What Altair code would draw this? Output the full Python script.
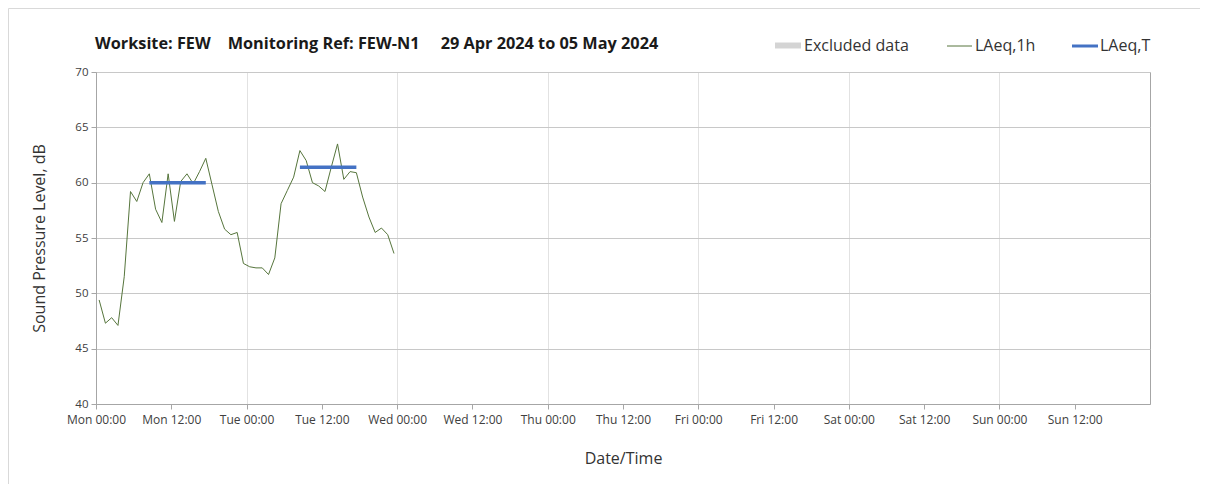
import altair as alt
import pandas as pd

# ---------------- data ----------------
TITLE = ("Worksite: FEW\u00a0\u00a0\u00a0\u00a0Monitoring Ref: FEW-N1"
         "\u00a0\u00a0\u00a0\u00a0\u00a029 Apr 2024 to 05 May 2024")
X_TITLE = "Date/Time"
Y_TITLE = "Sound Pressure Level, dB"
legend_labels = ["Excluded data", "LAeq,1h", "LAeq,T"]

# hourly LAeq,1h values from Mon 29 Apr 00:30 onward
laeq_1h = [49.4, 47.3, 47.8, 47.1, 51.5, 59.2, 58.3, 60.0, 60.8, 57.6,
           56.4, 60.8, 56.5, 60.1, 60.8, 59.9, 61.0, 62.2, 59.8, 57.4,
           55.8, 55.3, 55.5, 52.7, 52.4, 52.3, 52.3, 51.7, 53.2, 58.1,
           59.3, 60.5, 62.9, 62.0, 60.0, 59.7, 59.2, 61.4, 63.5, 60.3,
           61.0, 60.9, 58.7, 56.9, 55.5, 55.9, 55.3, 53.6]
first_time = "2024-04-29 00:30"

period_start = ["2024-04-29T08:30:00Z", "2024-04-30T08:30:00Z"]
period_end = ["2024-04-29T17:30:00Z", "2024-04-30T17:30:00Z"]
laeq_t = [60.0, 61.4]

y_ticks = [40, 45, 50, 55, 60, 65, 70]
week_start = "2024-04-29"
n_x_ticks = 14  # every 12 h, Mon 00:00 .. Sun 12:00

# ---------------- tables ----------------
times = pd.date_range(first_time, periods=len(laeq_1h), freq="h", tz="UTC")
df = pd.DataFrame({"time": times.strftime("%Y-%m-%dT%H:%M:%SZ"), "laeq": laeq_1h})
df_t = pd.DataFrame({"start": period_start, "end": period_end, "value": laeq_t})
dummy = pd.DataFrame({"a": [0]})

t0 = pd.Timestamp(week_start, tz="UTC").value // 10**6
HALF_DAY = 12 * 3600 * 1000
x_ticks = [t0 + i * HALF_DAY for i in range(n_x_ticks)]
x_domain = [t0, t0 + 14 * HALF_DAY]

FONT = "Open Sans"
GREEN = "#56753c"
BLUE = "#4472c4"
AXIS_GRAY = "#a6a6a6"
TXT = "#333333"

x_enc = alt.X(
    "time:T",
    scale=alt.Scale(type="utc", domain=x_domain, nice=False),
    axis=alt.Axis(
        values=x_ticks, labelExpr="utcFormat(datum.value, '%a %H:%M')",
        labelFont=FONT, labelFontSize=12, labelColor="#404040",
        labelPadding=5, labelFlush=False, labelOverlap=False,
        tickSize=5, tickColor=AXIS_GRAY, domainColor=AXIS_GRAY,
        grid=True, gridColor="#e2e2e2",
        gridOpacity=alt.condition("utchours(datum.value) != 0", alt.value(0), alt.value(1)),
        title=X_TITLE, titleFont=FONT, titleFontSize=16, titleFontWeight="normal",
        titleColor=TXT, titlePadding=25,
    ),
)
y_enc = alt.Y(
    "laeq:Q",
    scale=alt.Scale(domain=[40, 70], nice=False, zero=False),
    axis=alt.Axis(
        values=y_ticks, labelFont=FONT, labelFontSize=11.5, labelColor="#404040",
        labelPadding=3, tickSize=5, tickColor=AXIS_GRAY, domainColor=AXIS_GRAY,
        gridColor="#c8c8c8",
        title=Y_TITLE, titleFont=FONT, titleFontSize=16, titleFontWeight="normal",
        titleColor=TXT, titlePadding=27,
    ),
)

line = alt.Chart(df).mark_line(color=GREEN, strokeWidth=1).encode(x=x_enc, y=y_enc)
period = alt.Chart(df_t).mark_rule(color=BLUE, strokeWidth=3.5).encode(
    x="start:T", x2="end:T", y="value:Q")

frame_top = alt.Chart(dummy).mark_rule(color="#d9d9d9", strokeWidth=1).encode(
    x=alt.value(-87.5), x2=alt.value(1110), y=alt.value(-63.5))
frame_left = alt.Chart(dummy).mark_rule(color="#d9d9d9", strokeWidth=1).encode(
    x=alt.value(-87.5), y=alt.value(-63.5), y2=alt.value(420))

title = alt.Chart(dummy).mark_text(
    text=TITLE, align="left", baseline="alphabetic", font=FONT, fontSize=16.3,
    fontWeight="bold", color="#1a1a1a").encode(x=alt.value(-1), y=alt.value(-23))

sw_excl = alt.Chart(dummy).mark_rect(color="#d4d4d4").encode(
    x=alt.value(679), x2=alt.value(705), y=alt.value(-29.5), y2=alt.value(-23.5))
tx_excl = alt.Chart(dummy).mark_text(
    text=legend_labels[0], align="left", baseline="alphabetic", font=FONT,
    fontSize=16, color=TXT).encode(x=alt.value(708), y=alt.value(-21))
sw_1h = alt.Chart(dummy).mark_rule(color=GREEN, strokeWidth=1).encode(
    x=alt.value(851), x2=alt.value(876), y=alt.value(-26))
tx_1h = alt.Chart(dummy).mark_text(
    text=legend_labels[1], align="left", baseline="alphabetic", font=FONT,
    fontSize=16, color=TXT).encode(x=alt.value(879), y=alt.value(-21))
sw_t = alt.Chart(dummy).mark_rule(color=BLUE, strokeWidth=3).encode(
    x=alt.value(976), x2=alt.value(1002), y=alt.value(-26))
tx_t = alt.Chart(dummy).mark_text(
    text=legend_labels[2], align="left", baseline="alphabetic", font=FONT,
    fontSize=16, color=TXT).encode(x=alt.value(1004), y=alt.value(-21))

chart = alt.layer(
    frame_top, frame_left, line, period, title,
    sw_excl, tx_excl, sw_1h, tx_1h, sw_t, tx_t
).properties(
    width=1054, height=332,
    padding={"left": 88, "top": 64, "right": 50, "bottom": 80},
    autosize=alt.AutoSizeParams(type="none"),
    background="white",
).configure_view(stroke=AXIS_GRAY, strokeWidth=1)

chart.save("out.html", embed_options={"renderer": "svg", "actions": False})
